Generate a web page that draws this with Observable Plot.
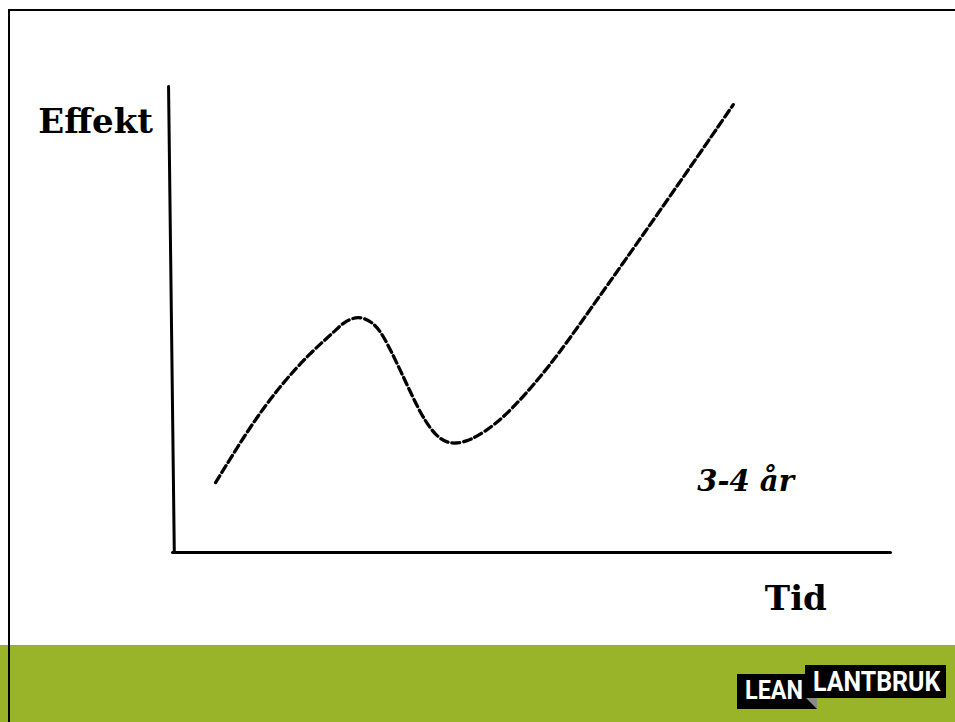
<!DOCTYPE html>
<html>
<head>
<meta charset="utf-8">
<script src="https://cdn.jsdelivr.net/npm/d3@7"></script>
<script src="https://cdn.jsdelivr.net/npm/@observablehq/plot@0.6"></script>
<style>
  html, body { margin: 0; padding: 0; background: #fff; }
  #wrap { position: relative; width: 955px; height: 722px; overflow: hidden; }
  #chart { position: absolute; left: 0; top: 0; }
  #footer { position: absolute; left: 0; top: 645px; width: 955px; height: 77px;
            background: #99b428; border-top: 1px solid #7f9cb0; box-sizing: border-box; }
  .bl { position: absolute; background: #000; }
  .box { position: absolute; background: #000; }
  .txt { position: absolute; color: #fff; font-family: Roboto, "DejaVu Sans", sans-serif;
         font-weight: bold; line-height: 1; white-space: nowrap; transform-origin: 0 0; }
</style>
</head>
<body>
<div id="wrap">
  <div id="chart"></div>
  <div id="footer">
    <div class="box" style="left:737px; top:28px; width:80px; height:35px;">
      <span class="txt" style="left:8px; top:3px; font-size:26px; transform:scaleX(0.9);">LEAN</span>
    </div>
    <div class="box" style="left:805px; top:19px; width:141px; height:33px;">
      <span class="txt" style="left:8px; top:3px; font-size:28px; transform:scaleX(0.89);">LANTBRUK</span>
    </div>
    <div style="position:absolute; left:806px; top:52px; width:0; height:0; border-left:11px solid transparent; border-top:11px solid #8a8a8a;"></div>
  </div>
  <div class="bl" style="left:8px; top:9px; width:947px; height:2px;"></div>
  <div class="bl" style="left:8px; top:9px; width:2px; height:713px;"></div>
</div>
<script>
// Time (x) and effect (y) in abstract units
const curveX = [6.0, 6.0, 10.9, 15.0, 19.2, 22.7, 23.8, 25.9, 27.9, 29.25, 31.75, 34.8, 36.9, 38.3, 39.4, 40.8, 42.2, 45.0, 48.05, 52.65, 57.2, 68.9, 78.1, 78.1];
const curveY = [15.0, 15.0, 27.3, 35.8, 42.9, 47.6, 49.4, 50.9, 49.4, 47.0, 39.1, 28.8, 24.7, 23.6, 23.4, 23.8, 24.7, 27.5, 32.0, 40.2, 50.0, 75.5, 96.1, 96.1];

const yAxisLineX = [-0.55, 0.25];
const yAxisLineY = [100, 0];
const xAxisLineX = [0, 100];
const xAxisLineY = [0, 0];

const axisTitles = ["Effekt", "Tid"];
const annotation = ["3-4 år"];

const curve = curveX.map((x, i) => ({x, y: curveY[i]}));
const yAxisLine = yAxisLineX.map((x, i) => ({x, y: yAxisLineY[i]}));
const xAxisLine = xAxisLineX.map((x, i) => ({x, y: xAxisLineY[i]}));

const titles = [
  {label: axisTitles[0], x: -18.7, y: 92.4},
  {label: axisTitles[1], x: 82.5, y: -9.9}
];
const notes = [{label: annotation[0], x: 73.1, y: 15.2}];

const plot = Plot.plot({
  width: 955,
  height: 645,
  margin: 0,
  x: {domain: [0, 100], range: [172, 890], axis: null},
  y: {domain: [0, 100], range: [552, 86], axis: null},
  style: {background: "transparent"},
  marks: [
    Plot.line(yAxisLine, {x: "x", y: "y", stroke: "#000", strokeWidth: 3}),
    Plot.line(xAxisLine, {x: "x", y: "y", stroke: "#000", strokeWidth: 3}),
    Plot.line(curve, {x: "x", y: "y", curve: "basis", stroke: "#000", strokeWidth: 3.3, strokeDasharray: "8,4"}),
    Plot.text(titles, {x: "x", y: "y", text: "label", textAnchor: "start", fontFamily: "DejaVu Serif", fontWeight: "bold", fontSize: 34, fill: "#000"}),
    Plot.text(notes, {x: "x", y: "y", text: "label", textAnchor: "start", fontFamily: "DejaVu Serif", fontWeight: "bold", fontStyle: "italic", fontSize: 29, fill: "#000"})
  ]
});
document.getElementById("chart").appendChild(plot);
</script>
</body>
</html>
